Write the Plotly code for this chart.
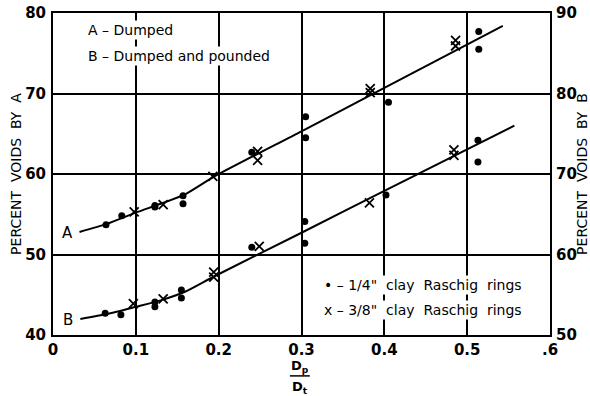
import plotly.graph_objects as go

# Void fraction vs. particle/tube diameter ratio
# Curve A: dumped packing (left axis); Curve B: dumped and pounded (right axis, offset +10)

# --- measured points, curve A (percent voids by A) ---
a_dots_x = [0.064, 0.083, 0.123, 0.123, 0.157, 0.157, 0.240, 0.305, 0.305, 0.405, 0.514, 0.514]
a_dots_y = [53.7, 54.8, 56.1, 55.9, 57.3, 56.3, 62.7, 67.1, 64.5, 68.9, 77.7, 75.5]
a_cross_x = [0.098, 0.133, 0.193, 0.247, 0.247, 0.383, 0.383, 0.486, 0.486]
a_cross_y = [55.3, 56.2, 59.7, 62.8, 61.7, 70.1, 70.6, 76.6, 75.9]

# --- measured points, curve B (plotted on the left scale) ---
b_dots_x = [0.063, 0.082, 0.123, 0.123, 0.155, 0.155, 0.240, 0.304, 0.304, 0.402, 0.513, 0.513]
b_dots_y = [42.7, 42.5, 44.1, 43.5, 45.6, 44.6, 50.9, 54.1, 51.4, 57.4, 64.2, 61.5]
b_cross_x = [0.097, 0.133, 0.194, 0.194, 0.249, 0.382, 0.484, 0.484]
b_cross_y = [43.9, 44.5, 47.2, 47.8, 51.0, 56.4, 62.3, 63.0]

# --- smoothed correlation curves ---
a_fit_x = [0.032, 0.065, 0.100, 0.130, 0.160, 0.195, 0.300, 0.400, 0.543]
a_fit_y = [52.8, 53.8, 55.2, 56.3, 57.5, 59.7, 65.3, 70.7, 78.4]
b_fit_x = [0.033, 0.065, 0.100, 0.130, 0.160, 0.195, 0.300, 0.400, 0.557]
b_fit_y = [42.0, 42.6, 43.5, 44.3, 45.4, 47.3, 52.7, 57.9, 66.0]

x_ticks = [0, 0.1, 0.2, 0.3, 0.4, 0.5, 0.6]
x_ticktext = ["0", "0.1", "0.2", "0.3", "0.4", "0.5", ".6"]
left_ticks = [40, 50, 60, 70, 80]
right_ticks = [50, 60, 70, 80, 90]

FONT = "DejaVu Sans"
ink = "black"

fig = go.Figure()

for fx, fy in [(a_fit_x, a_fit_y), (b_fit_x, b_fit_y)]:
    fig.add_trace(go.Scatter(x=fx, y=fy, mode="lines",
                             line=dict(color=ink, width=2, shape="spline", smoothing=0.6),
                             hoverinfo="skip", showlegend=False))

for dx, dy in [(a_dots_x, a_dots_y), (b_dots_x, b_dots_y)]:
    fig.add_trace(go.Scatter(x=dx, y=dy, mode="markers",
                             marker=dict(symbol="circle", size=7, color=ink),
                             showlegend=False))

for cx, cy in [(a_cross_x, a_cross_y), (b_cross_x, b_cross_y)]:
    fig.add_trace(go.Scatter(x=cx, y=cy, mode="markers",
                             marker=dict(symbol="x-thin-open", size=9, color=ink,
                                         line=dict(color=ink, width=1.8)),
                             showlegend=False))

# invisible trace to activate the right-hand axis
fig.add_trace(go.Scatter(x=[0.3], y=[70], yaxis="y2", mode="markers",
                         marker=dict(opacity=0), hoverinfo="skip", showlegend=False))

tick_font = dict(family=FONT, size=15, color=ink, weight="bold")
title_font = dict(family=FONT, size=14, color=ink)

fig.update_layout(
    width=590, height=396,
    margin=dict(l=53, r=40, t=13, b=61, autoexpand=False),
    paper_bgcolor="white", plot_bgcolor="white",
    xaxis=dict(range=[0, 0.6], tickvals=x_ticks, ticktext=x_ticktext,
               showgrid=True, gridcolor=ink, gridwidth=1.5,
               showline=True, linecolor=ink, linewidth=2, mirror=True,
               zeroline=False, ticks="", tickfont=tick_font, automargin=False),
    yaxis=dict(range=[40, 80], tickvals=left_ticks,
               showgrid=True, gridcolor=ink, gridwidth=1.5,
               showline=True, linecolor=ink, linewidth=2, mirror=True,
               zeroline=False, ticks="", tickfont=tick_font, ticklabelstandoff=2,
               automargin=False,
               title=dict(text="PERCENT  VOIDS  BY  A", font=title_font, standoff=0)),
    yaxis2=dict(range=[50, 90], tickvals=right_ticks, overlaying="y", side="right",
                showgrid=False, zeroline=False, ticks="", tickfont=tick_font,
                ticklabelstandoff=5, automargin=False,
                title=dict(text="PERCENT  VOIDS  BY  B", font=title_font, standoff=8)),
)

ann_font = dict(family=FONT, size=14, color=ink)
notes = [
    (0.040, 77.9, "A – Dumped"),
    (0.040, 74.7, "B – Dumped and pounded"),
    (0.325, 46.2, "• – 1/4\"  clay  Raschig  rings"),
    (0.325, 43.1, "x – 3/8\"  clay  Raschig  rings"),
]
for nx, ny, txt in notes:
    fig.add_annotation(x=nx, y=ny, text=txt, showarrow=False, xanchor="left",
                       font=ann_font, bgcolor="white", borderpad=1)

for lx, ly, txt in [(0.018, 52.7, "A"), (0.018, 41.9, "B")]:
    fig.add_annotation(x=lx, y=ly, text=txt, showarrow=False,
                       font=dict(family=FONT, size=15, color=ink))

# x-axis title written as the ratio Dp / Dt
fig.add_annotation(xref="x", yref="paper", x=0.298, y=-0.098, yanchor="middle",
                   text="D<sub>p</sub>", showarrow=False,
                   font=dict(family=FONT, size=13, color=ink, weight="bold"))
fig.add_annotation(xref="x", yref="paper", x=0.298, y=-0.162, yanchor="middle",
                   text="D<sub>t</sub>", showarrow=False,
                   font=dict(family=FONT, size=13, color=ink, weight="bold"))
fig.add_shape(type="line", xref="x", yref="paper", x0=0.286, x1=0.310, y0=-0.127, y1=-0.127,
              line=dict(color=ink, width=1.5))

fig.write_html("out.html")
